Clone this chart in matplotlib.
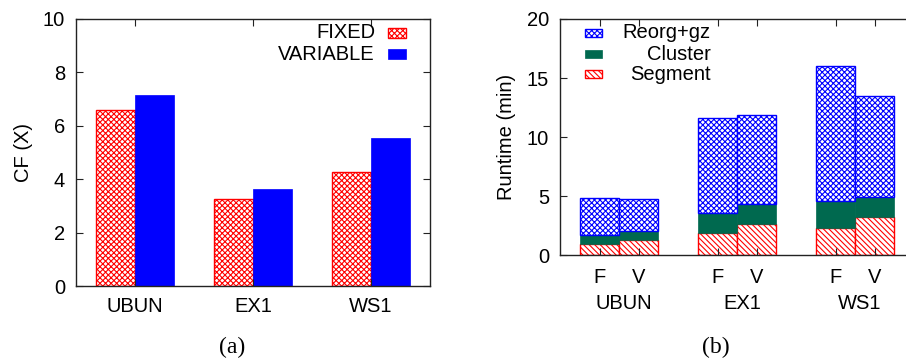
import matplotlib
matplotlib.use('Agg')
import matplotlib.pyplot as plt
from matplotlib.patches import Rectangle
from matplotlib.transforms import blended_transform_factory
import numpy as np

# data
datasets = ['UBUN', 'EX1', 'WS1']
cf_fixed = [6.58, 3.27, 4.28]
cf_variable = [7.15, 3.63, 5.54]

# runtime (min), order per dataset: F, V
bar_labels = ['F', 'V']
segment = [[0.93, 1.30], [1.86, 2.63], [2.32, 3.25]]
cluster = [[0.76, 0.73], [1.76, 1.75], [2.26, 1.72]]
reorg = [[3.20, 2.77], [7.96, 7.46], [11.41, 8.48]]

plt.rcParams['font.family'] = ['Liberation Sans', 'DejaVu Sans']
plt.rcParams['hatch.linewidth'] = 0.8

RED = '#ff0000'
BLUE = '#0000ff'
GREEN = '#00694f'
FS = 14.5
CROSS = 'xxxxxx'
DIAG = '\\' * 6

fig = plt.figure(figsize=(9.06, 3.6), dpi=100)
ax1 = fig.add_axes([76 / 906, 1 - 286 / 360, 354 / 906, 267 / 360])
ax2 = fig.add_axes([560 / 906, 1 - 255.3 / 360, 354.5 / 906, 236.3 / 360])


def style_axes(ax):
    for s in ax.spines.values():
        s.set_linewidth(1.0)
        s.set_color('#222222')
    ax.tick_params(direction='in', top=True, right=True, length=5,
                   width=0.8, labelsize=FS, colors='#222222', labelcolor='black')


def legend_entry(ax, x0, x1, yc, text, text_right, **kw):
    h = 0.038
    ax.add_patch(Rectangle((x0, yc - h / 2), x1 - x0, h, transform=ax.transAxes,
                           clip_on=False, **kw))
    ax.text(text_right, yc, text, transform=ax.transAxes, ha='right', va='center',
            fontsize=FS)


# (a) compression factor
x = np.arange(len(datasets))
w = 0.33
ax1.bar(x - w / 2, cf_fixed, w, color='white', edgecolor=RED, hatch=CROSS, linewidth=1.0)
ax1.bar(x + w / 2, cf_variable, w, color=BLUE, edgecolor=BLUE, linewidth=0.5)
ax1.set_xlim(-0.5, 2.5)
ax1.set_ylim(0, 10)
ax1.set_xticks(x)
ax1.set_xticklabels(datasets)
ax1.set_yticks(range(0, 11, 2))
style_axes(ax1)
ax1.tick_params(axis='x', pad=8)
ax1.tick_params(axis='y', pad=8)
ax1.set_ylabel('CF (X)', fontsize=FS)
ax1.yaxis.set_label_coords(-0.122, 0.5)

lx = lambda px: (px - 76) / 354
ly = lambda py: (286 - py) / 267
legend_entry(ax1, lx(388), lx(406), ly(33), 'FIXED', lx(375),
             facecolor='white', edgecolor=RED, hatch=CROSS, linewidth=1.0)
legend_entry(ax1, lx(388), lx(406), ly(54), 'VARIABLE', lx(375),
             facecolor=BLUE, edgecolor=BLUE, linewidth=0.5)

# (b) runtime breakdown
seg = np.array(segment)
clu = np.array(cluster)
reo = np.array(reorg)
pos = []
for i in range(len(datasets)):
    for j in range(2):
        pos.append(i + (j - 0.5) * w)
pos = np.array(pos)
seg_f, clu_f, reo_f = seg.ravel(), clu.ravel(), reo.ravel()
ax2.bar(pos, seg_f, w, color='white', edgecolor=RED, hatch=DIAG, linewidth=1.0)
ax2.bar(pos, clu_f, w, bottom=seg_f, color=GREEN, edgecolor=GREEN, linewidth=0.5)
ax2.bar(pos, reo_f, w, bottom=seg_f + clu_f, color='white', edgecolor=BLUE,
        hatch=CROSS, linewidth=1.0)
ax2.set_xlim(-0.5, 2.5)
ax2.set_ylim(0, 20)
ax2.set_xticks(pos)
ax2.set_xticklabels(bar_labels * len(datasets))
ax2.set_yticks(range(0, 21, 5))
style_axes(ax2)
ax2.spines['right'].set_visible(False)
ax2.tick_params(axis='x', pad=9)
ax2.tick_params(axis='y', pad=8)
ax2.set_ylabel('Runtime (min)', fontsize=FS)
ax2.yaxis.set_label_coords(-0.124, 0.5)
trans = blended_transform_factory(ax2.transData, ax2.transAxes)
for i, name in enumerate(datasets):
    ax2.text(i + 0.04, -0.205, name, transform=trans, ha='center', va='center',
             fontsize=FS)

rx = lambda px: (px - 560) / 354.5
ry = lambda py: (255.3 - py) / 236.3
legend_entry(ax2, rx(585), rx(602), ry(33), 'Reorg+gz', rx(711),
             facecolor='white', edgecolor=BLUE, hatch=CROSS, linewidth=1.0)
legend_entry(ax2, rx(585), rx(602), ry(54), 'Cluster', rx(711),
             facecolor=GREEN, edgecolor=GREEN, linewidth=0.5)
legend_entry(ax2, rx(585), rx(602), ry(74), 'Segment', rx(711),
             facecolor='white', edgecolor=RED, hatch=DIAG, linewidth=1.0)

fig.text(232 / 906, 1 - 347 / 360, '(a)', ha='center', va='center', fontsize=17,
         family=['Liberation Serif', 'DejaVu Serif'])
fig.text(716 / 906, 1 - 347 / 360, '(b)', ha='center', va='center', fontsize=17,
         family=['Liberation Serif', 'DejaVu Serif'])

fig.savefig('out.png', dpi=100)
